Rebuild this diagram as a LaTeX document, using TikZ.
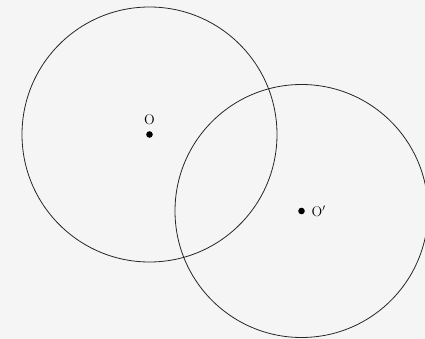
\documentclass[tikz,border=0pt]{standalone}
\usepackage{tikz}
\usetikzlibrary{positioning}

\begin{document}
\begin{tikzpicture}[x=1pt,y=-1pt,line cap=round,line join=round]
\fill[black!4] (0,0) rectangle (425,339);
\useasboundingbox (0,0) rectangle (425,339);
\coordinate (O) at (149.5,134.5);
\coordinate (Op) at (301.5,211);
\draw[line width=0.8pt,black!85] (O) circle (127.5);
\draw[line width=0.8pt,black!85] (Op) circle (126.5);
\fill (O) circle (3.3pt);
\node[above=9pt,inner sep=1pt,font=\fontsize{14}{16}\selectfont] (labO) at (O) {O};
\fill (Op) circle (3.3pt);
\node[right=9pt,inner sep=1pt,font=\fontsize{14}{16}\selectfont] (labOp) at (Op) {O$'$};
\end{tikzpicture}
\end{document}
